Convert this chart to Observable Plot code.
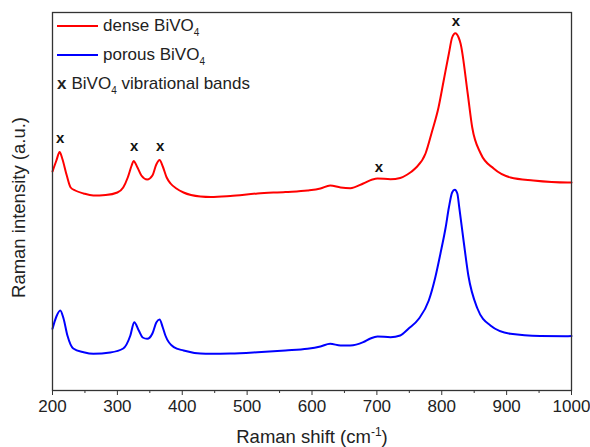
<!DOCTYPE html>
<html>
<head>
<meta charset="utf-8">
<script src="https://cdn.jsdelivr.net/npm/d3@7"></script>
<script src="https://cdn.jsdelivr.net/npm/@observablehq/plot@0.6"></script>
<style>
  html, body { margin: 0; padding: 0; background: #fff; }
  #wrap { position: relative; width: 590px; height: 447px; font-family: "Liberation Sans", Arial, sans-serif; }
  #legend { position: absolute; left: 57px; top: 11px; font-size: 17px; color: #222; }
  #legend .row { height: 29px; display: flex; align-items: center; white-space: nowrap; }
  #legend .row svg { margin-right: 5px; }
  #legend .sub { font-size: 10px; position: relative; top: 5px; }
</style>
</head>
<body>
<div id="wrap">
  <div id="chart"></div>
  <div id="legend">
    <div class="row"><svg width="41" height="4"><line x1="0" x2="41" y1="2" y2="2" stroke="red" stroke-width="2"/></svg><span>dense BiVO<span class="sub">4</span></span></div>
    <div class="row"><svg width="41" height="4"><line x1="0" x2="41" y1="2" y2="2" stroke="blue" stroke-width="2"/></svg><span>porous BiVO<span class="sub">4</span></span></div>
    <div class="row"><b style="margin-right:5px">x</b><span>BiVO<span class="sub">4</span>&nbsp;vibrational bands</span></div>
  </div>
</div>
<script>
// Raman shift (cm^-1) and intensity (a.u.)
const denseShift = [200,206,211,215,222,228,235,248,263,282,300,309,316,322,325,331,337,346,354,360,365,370,376,382,391,402,428,444,474,516,559,593,613,628,644,659,679,693,701,721,736,747,759,775,785,795,803,811,816,821,826,829,840,847,860,880,906,941,994,1000];
const denseIntensity = [219,230,238.5,232,215,203,200,197,195,195.5,198,203,213,225,229.5,223,215,211,215,226,230.5,224,213,207,202,198,194,193.5,194.5,197,198.5,200,202,205,203,202.3,207,211,212,211.3,212.5,216,222,237,259,283,310,337,353,357.3,353,347,297,263,237,222,213,210,208,208];

const porousShift = [200,206,212,217,223,232,248,263,289,309,320,326,333,339,346,354,360,365,370,374,387,402,428,444,474,516,559,593,613,628,644,659,679,690,701,721,736,749,765,780,790,798,806,811,816,820,824,827,834,841,855,875,906,952,991,1000];
const porousIntensity = [61.7,74,80,72,55,42,38.3,36.7,38,42,55,68.3,60,53,51.7,57,68,71,63,55,43.3,40,37,36.7,37,38.3,40,41.7,44,46.7,45,45,48.3,52,54,53.3,55,62,72,90,113,137,163,183,198,200.7,197,183,148,115,82,65,56.7,54.5,54.3,54.5];

const bandShift = [212, 326, 366, 703, 822];
const bandLabelY = [252, 244, 244, 223, 369];

const majorTicks = [200, 300, 400, 500, 600, 700, 800, 900, 1000];
const minorTicks = [250, 350, 450, 550, 650, 750, 850, 950];

const dense = denseShift.map((x, i) => ({x, y: denseIntensity[i]}));
const porous = porousShift.map((x, i) => ({x, y: porousIntensity[i]}));
const bands = bandShift.map((x, i) => ({x, y: bandLabelY[i]}));

const chart = Plot.plot({
  width: 590,
  height: 447,
  marginLeft: 52,
  marginRight: 19,
  marginTop: 12,
  marginBottom: 57,
  x: {domain: [200, 1000]},
  y: {domain: [0, 378]},
  style: {fontFamily: "'Liberation Sans', Arial, sans-serif", fontSize: "17px", color: "#222", background: "#fff"},
  marks: [
    Plot.line(dense, {x: "x", y: "y", stroke: "red", strokeWidth: 2, curve: "monotone-x"}),
    Plot.line(porous, {x: "x", y: "y", stroke: "blue", strokeWidth: 2, curve: "monotone-x"}),
    Plot.text(bands, {x: "x", y: "y", text: () => "x", fontWeight: "bold", fontSize: 15, fill: "#111"}),
    Plot.frame({stroke: "#333", strokeWidth: 1.3}),
    Plot.axisX({ticks: minorTicks, tickSize: 3, tickFormat: () => "", label: null, stroke: "#333"}),
    Plot.axisX({ticks: majorTicks, tickSize: 5, tickPadding: 4, tickFormat: d => String(d), label: "Raman shift (cm-1)", labelAnchor: "center", labelArrow: "none", labelOffset: 52, stroke: "#333", fontSize: 17}),
    Plot.axisY({ticks: [], label: "Raman intensity (a.u.)", labelAnchor: "center", labelArrow: "none", labelOffset: 41, fontSize: 17})
  ]
});
document.getElementById("chart").appendChild(chart);

// axis titles: larger font, superscript in x-axis title
d3.select(chart).selectAll('g[aria-label="y-axis label"] text').attr("font-size", "18.5px").attr("dx", "-6");
d3.select(chart).selectAll('g[aria-label="x-axis label"] text').each(function() {
  const t = d3.select(this).attr("font-size", "18.5px");
  t.text("");
  t.append("tspan").text("Raman shift (cm");
  t.append("tspan").attr("baseline-shift", "super").attr("font-size", "12px").text("-1");
  t.append("tspan").text(")");
});
</script>
</body>
</html>
